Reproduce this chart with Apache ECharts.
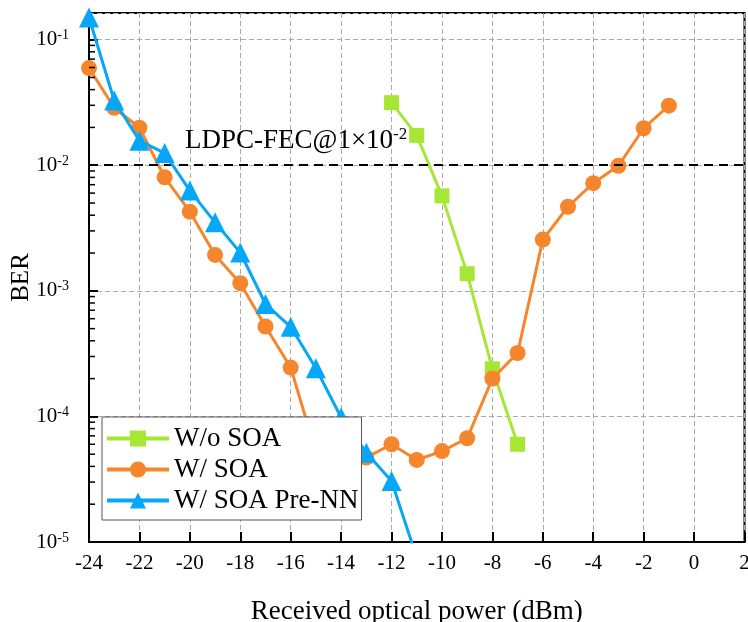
<!DOCTYPE html>
<html><head><meta charset="utf-8">
<script src="https://cdn.jsdelivr.net/npm/echarts@6/dist/echarts.min.js"></script>
<style>html,body{margin:0;padding:0;background:#fff}#c{width:748px;height:622px}</style>
</head><body><div id="c"></div>
<script>
// ---- data ----
const woSoaX = [-12, -11, -10, -9, -8, -7];
const woSoaY = [0.0315, 0.0173, 0.0057, 0.00137, 0.000239, 0.00006];

const wSoaX = [-24, -23, -22, -21, -20, -19, -18, -17, -16, -15, -14, -13, -12, -11, -10, -9, -8, -7, -6, -5, -4, -3, -2, -1];
const wSoaY = [0.0594, 0.0287, 0.0199, 0.00802, 0.00427, 0.00193, 0.00115, 0.00052, 0.000245, 0.000052, 0.000048, 0.000047,
               0.00006, 0.000045, 0.000053, 0.000067, 0.0002, 0.00032, 0.00256, 0.00467, 0.0072, 0.0099, 0.0197, 0.0298];

const preNNX = [-24, -23, -22, -21, -20, -19, -18, -17, -16, -15, -14, -13, -12, -11];
const preNNY = [0.15, 0.0328, 0.0157, 0.0125, 0.00628, 0.00351, 0.00202, 0.000785, 0.000517, 0.000242, 0.000098, 0.0000514, 0.0000306, 0.0000075];

const seriesNames = ['W/o SOA', 'W/ SOA', 'W/ SOA Pre-NN'];
const fecThreshold = 0.01;
const fecLabel = 'LDPC-FEC@1×10';
const fecExp = '-2';
const minorTickValues = [
  2e-5, 3e-5, 4e-5, 5e-5, 6e-5, 7e-5, 8e-5, 9e-5,
  2e-4, 3e-4, 4e-4, 5e-4, 6e-4, 7e-4, 8e-4, 9e-4,
  2e-3, 3e-3, 4e-3, 5e-3, 6e-3, 7e-3, 8e-3, 9e-3,
  2e-2, 3e-2, 4e-2, 5e-2, 6e-2, 7e-2, 8e-2, 9e-2
];
const xMin = -24, xMax = 2, xStep = 2;
const yMin = 1e-5, yMax = 0.163;

// ---- chart ----
const FONT = "'Liberation Serif','Times New Roman',serif";
const pair = (xs, ys) => xs.map((x, i) => [x, ys[i]]);
const chart = echarts.init(document.getElementById('c'), null, {renderer: 'canvas'});

function expLabel(v) {
  const l = Math.log10(v);
  const r = Math.round(l);
  if (Math.abs(l - r) > 1e-6) return '';
  return '{b|10}{s|' + r + '}';
}

const option = {
  backgroundColor: '#fff',
  animation: false,
  textStyle: {fontFamily: FONT, color: '#000'},
  grid: {left: 89, right: 3.5, top: 13, bottom: 80, show: true, borderColor: '#000', borderWidth: 2,
         containLabel: false, outerBoundsMode: 'none'},
  legend: {
    data: seriesNames,
    orient: 'vertical', left: 102, top: 417,
    padding: [8, 3, 6, 3], itemGap: 4,
    itemWidth: 62, itemHeight: 20,
    backgroundColor: '#fff', borderColor: '#555', borderWidth: 1,
    textStyle: {fontFamily: FONT, fontSize: 27, color: '#000'},
    lineStyle: {width: 4},
    z: 10
  },
  xAxis: {
    type: 'value', min: xMin, max: xMax, interval: xStep,
    name: 'Received optical power (dBm)', nameLocation: 'middle', nameGap: 56, nameMoveOverlap: false,
    nameTextStyle: {fontFamily: FONT, fontSize: 27, color: '#000'},
    axisLine: {show: true, onZero: false, lineStyle: {color: '#000', width: 2}},
    axisTick: {show: true, inside: true, length: 10, lineStyle: {color: '#000', width: 2}},
    axisLabel: {fontFamily: FONT, fontSize: 21, color: '#000', margin: 11},
    splitLine: {show: true, lineStyle: {color: '#aaa', width: 1, type: [5, 3]}}
  },
  yAxis: {
    type: 'log', logBase: 10, min: yMin, max: yMax,
    name: 'BER', nameLocation: 'middle', nameGap: 55, nameMoveOverlap: false,
    nameTextStyle: {fontFamily: FONT, fontSize: 25, color: '#000'},
    axisLine: {show: true, onZero: false, lineStyle: {color: '#000', width: 2}},
    axisTick: {show: true, inside: true, length: 9, lineStyle: {color: '#000', width: 2}},
    axisLabel: {
      margin: 20, formatter: expLabel, showMaxLabel: false,
      rich: {
        b: {fontFamily: FONT, fontSize: 21, color: '#000', lineHeight: 22},
        s: {fontFamily: FONT, fontSize: 14, color: '#000', lineHeight: 12, verticalAlign: 'top'}
      }
    },
    splitLine: {show: true, lineStyle: {color: '#aaa', width: 1, type: [5, 3]}}
  },
  series: [
    {
      name: seriesNames[0], type: 'line', data: pair(woSoaX, woSoaY),
      color: '#A6E634', symbol: 'rect', symbolSize: 15,
      lineStyle: {width: 3}, z: 3,
      markLine: {
        silent: true, symbol: ['none', 'none'],
        lineStyle: {color: '#000', type: [9, 6], width: 2},
        label: {
          show: true, position: 'insideStartTop', distance: [96, 9],
          formatter: '{a|' + fecLabel + '}{s|' + fecExp + '}',
          rich: {
            a: {fontFamily: FONT, fontSize: 27, color: '#000', lineHeight: 30},
            s: {fontFamily: FONT, fontSize: 17, color: '#000', lineHeight: 16, verticalAlign: 'top'}
          }
        },
        data: [{yAxis: fecThreshold}]
      }
    },
    {
      name: seriesNames[1], type: 'line', data: pair(wSoaX, wSoaY),
      color: '#F5862B', symbol: 'circle', symbolSize: 16,
      lineStyle: {width: 3}, z: 4
    },
    {
      name: seriesNames[2], type: 'line', data: pair(preNNX, preNNY),
      color: '#06A6F8', symbol: 'triangle', symbolSize: 20,
      lineStyle: {width: 3}, z: 5
    },
    {
      name: 'minorTicks', type: 'custom', silent: true, z: 6,
      data: minorTickValues.map(v => [xMin, v]),
      renderItem: function (params, api) {
        const p = api.coord([api.value(0), api.value(1)]);
        return {type: 'line', shape: {x1: p[0], y1: p[1], x2: p[0] + 6, y2: p[1]}, style: {stroke: '#000', lineWidth: 1.5}};
      }
    }
  ]
};
chart.setOption(option);
</script>
</body></html>
